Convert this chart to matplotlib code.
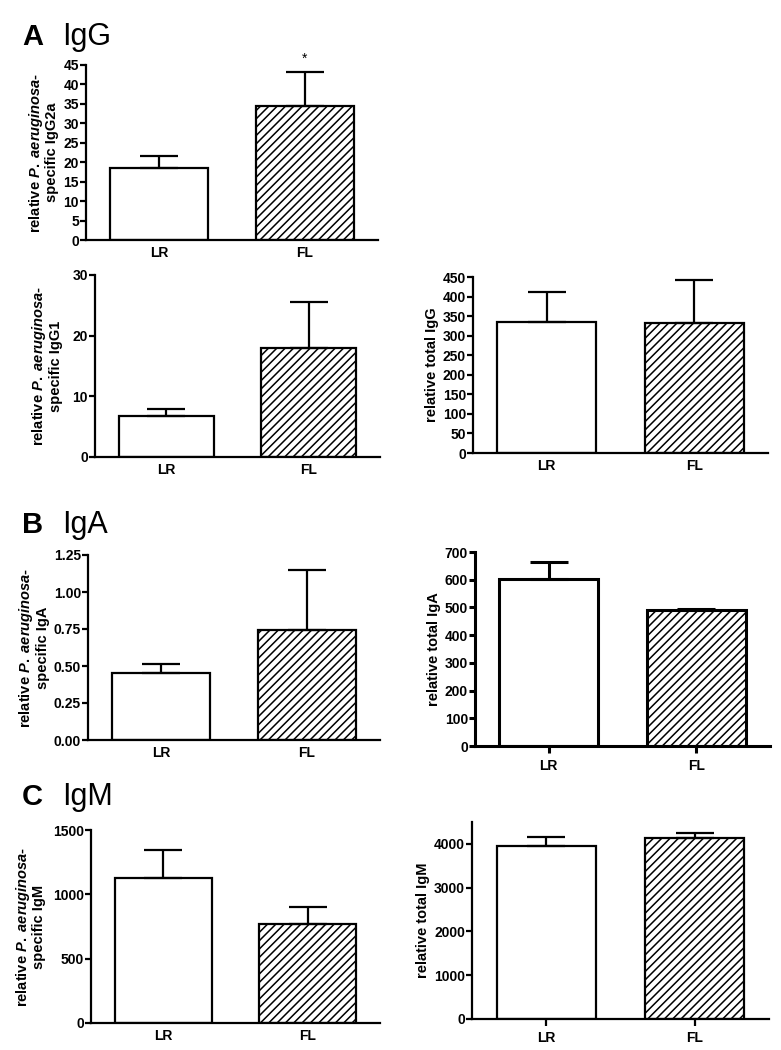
import matplotlib
matplotlib.use("Agg")
import matplotlib.pyplot as plt

plt.rcParams['font.family'] = ['Liberation Sans', 'DejaVu Sans']
plt.rcParams['mathtext.fontset'] = 'custom'
plt.rcParams['mathtext.rm'] = 'Liberation Sans:bold'
plt.rcParams['mathtext.bf'] = 'Liberation Sans:bold'
plt.rcParams['mathtext.it'] = 'Liberation Sans:italic:bold'
plt.rcParams['hatch.linewidth'] = 1.1

groups = ['LR', 'FL']
igg2a_mean = [18.4, 34.4]
igg2a_err = [3.3, 8.8]
igg1_mean = [6.8, 17.9]
igg1_err = [1.15, 7.6]
total_igg_mean = [336, 333]
total_igg_err = [76, 109]
iga_spec_mean = [0.455, 0.745]
iga_spec_err = [0.06, 0.405]
total_iga_mean = [603, 491]
total_iga_err = [61, 5]
igm_spec_mean = [1129, 767]
igm_spec_err = [215, 132]
total_igm_mean = [3960, 4130]
total_igm_err = [192, 112]

W, H = 781, 1050
fig = plt.figure(figsize=(W / 100, H / 100), dpi=100)

SPEC = r"relative $\it{P.}$ $\it{aeruginosa}$-" + "\nspecific "


def make_panel(x0, x1, ytop, ybot, means, errs, ymax, yticks, ylabel,
               ticklabels=None, lw=1.6, xtick_len=0, labelpad=3):
    ax = fig.add_axes([x0 / W, 1 - ybot / H, (x1 - x0) / W, (ybot - ytop) / H])
    xs = list(range(len(groups)))
    ax.bar(xs[0], means[0], width=0.67, color='white', edgecolor='black',
           linewidth=lw, zorder=2)
    ax.bar(xs[1], means[1], width=0.67, color='white', edgecolor='black',
           linewidth=lw, hatch='////', zorder=2)
    for x, m, e in zip(xs, means, errs):
        ax.errorbar(x, m, yerr=[[0], [e]], fmt='none', ecolor='black',
                    elinewidth=lw, capsize=14, capthick=lw, zorder=3)
    ax.set_xlim(-0.5, 1.5)
    ax.set_ylim(0, ymax)
    ax.set_yticks(yticks)
    if ticklabels is not None:
        ax.set_yticklabels(ticklabels)
    ax.set_xticks(xs)
    ax.set_xticklabels(groups, fontweight='bold', fontsize=10)
    for s in ['top', 'right']:
        ax.spines[s].set_visible(False)
    for s in ['left', 'bottom']:
        ax.spines[s].set_linewidth(lw)
    ax.tick_params(axis='y', length=4, width=lw, labelsize=10, pad=1)
    ax.tick_params(axis='x', length=xtick_len, width=lw, pad=4)
    for t in ax.get_yticklabels():
        t.set_fontweight('bold')
    ax.set_ylabel(ylabel, fontweight='bold', fontsize=10.5, labelpad=labelpad,
                  linespacing=1.05)
    ax.patch.set_alpha(0)
    return ax


# Panel A
axA1 = make_panel(86, 378, 65, 240, igg2a_mean, igg2a_err, 45,
                  list(range(0, 46, 5)), SPEC + "IgG2a")
axA1.text(1, igg2a_mean[1] + igg2a_err[1] + 3.3, '*', ha='center', va='center',
          fontsize=10)
make_panel(95, 380, 275, 457, igg1_mean, igg1_err, 30, [0, 10, 20, 30],
           SPEC + "IgG1", labelpad=7)
make_panel(473, 768, 277, 453, total_igg_mean, total_igg_err, 450,
           list(range(0, 451, 50)), "relative total IgG")

# Panel B
make_panel(88, 380, 555, 740, iga_spec_mean, iga_spec_err, 1.25,
           [0, 0.25, 0.5, 0.75, 1.0, 1.25], SPEC + "IgA",
           ticklabels=['0.00', '0.25', '0.50', '0.75', '1.00', '1.25'])
make_panel(475, 770, 552, 746, total_iga_mean, total_iga_err, 700,
           list(range(0, 701, 100)), "relative total IgA", lw=2.2, xtick_len=5)

# Panel C
make_panel(91, 380, 830, 1023, igm_spec_mean, igm_spec_err, 1500,
           [0, 500, 1000, 1500], SPEC + "IgM", labelpad=5)
make_panel(472, 769, 822, 1019, total_igm_mean, total_igm_err, 4500,
           [0, 1000, 2000, 3000, 4000], "relative total IgM", xtick_len=5)

# Headers
for letter, name, ybase in [('A', 'IgG', 45), ('B', 'IgA', 533), ('C', 'IgM', 805)]:
    fig.text(22 / W, 1 - ybase / H, letter, fontsize=21, fontweight='bold',
             ha='left', va='baseline')
    fig.text(62 / W, 1 - ybase / H, name, fontsize=22, ha='left', va='baseline')

fig.savefig('out.png', dpi=100, facecolor='white')
